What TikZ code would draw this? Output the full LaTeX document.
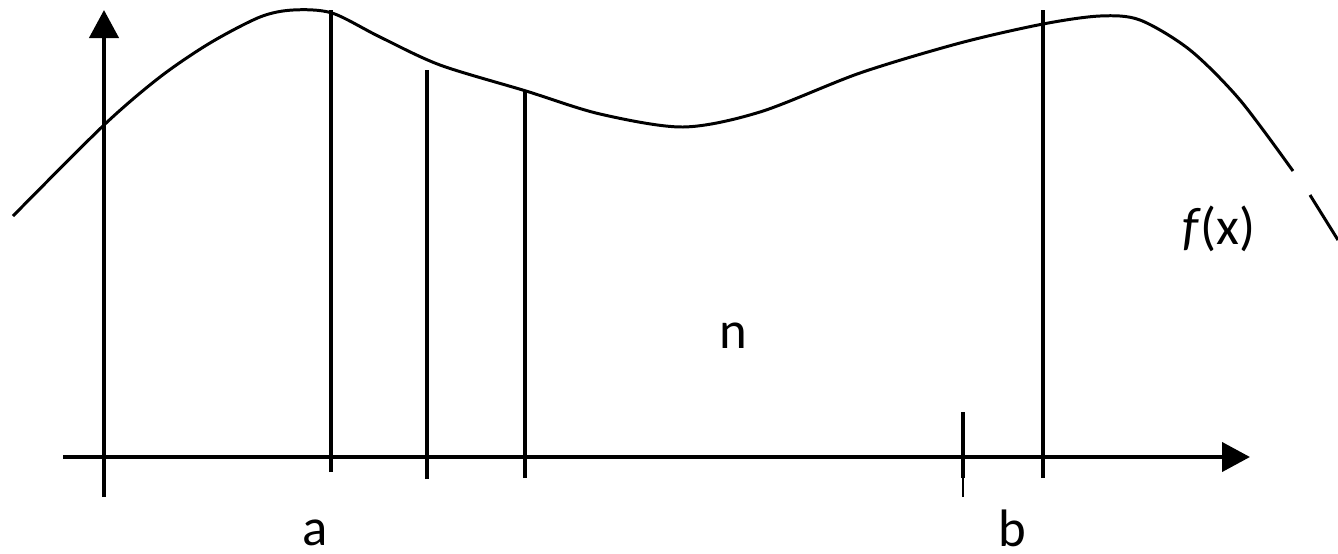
\documentclass[tikz,border=0pt]{standalone}
\usepackage{fontspec}
\setmainfont{Carlito}
\usetikzlibrary{arrows.meta}

\begin{document}
\begin{tikzpicture}[
    >={Triangle[length=2.8mm, width=2.9mm]},
    font=\fontsize{15}{18}\selectfont, inner sep=0pt]
  \tikzset{ax/.style={line width=1.2pt}, fx/.style={line width=0.85pt}}
  \useasboundingbox (0,0) rectangle (13.38,5.53);
  \draw[ax,->] (0.63,0.96) -- (12.50,0.96);
  \draw[ax,->] (1.04,0.56) -- (1.04,5.43);
  \draw[fx] plot[smooth] coordinates {(0.13,3.37) (1.04,4.28) (1.60,4.76)
    (2.10,5.10) (2.60,5.36) (2.93,5.43) (3.32,5.40) (3.80,5.16) (4.40,4.88)
    (5.26,4.62) (6.00,4.39) (6.83,4.26) (7.60,4.41) (8.60,4.80) (9.60,5.10)
    (10.43,5.29) (11.00,5.37) (11.40,5.33) (11.90,5.03)
    (12.40,4.53) (12.93,3.82)};
  \draw[fx] (13.10,3.58) -- (13.38,3.13);
  \draw[ax] (3.31,0.81) -- (3.31,5.43);
  \draw[ax] (4.27,0.74) -- (4.27,4.83);
  \draw[ax] (5.25,0.75) -- (5.25,4.62);
  \draw[ax] (10.43,0.75) -- (10.43,5.43);
  \draw[ax] (9.63,0.75) -- (9.63,1.41);
  \draw[line width=0.5pt] (9.63,0.56) -- (9.63,0.75);
  \node (a) at (3.15,0.08) [anchor=base] {a};
  \node (b) at (10.12,0.07) [anchor=base] {b};
  \node (n) at (7.33,2.05) [anchor=base] {n};
  \node (f) at (12.19,3.09) [anchor=base] {\textit{f}(x)};
\end{tikzpicture}
\end{document}
